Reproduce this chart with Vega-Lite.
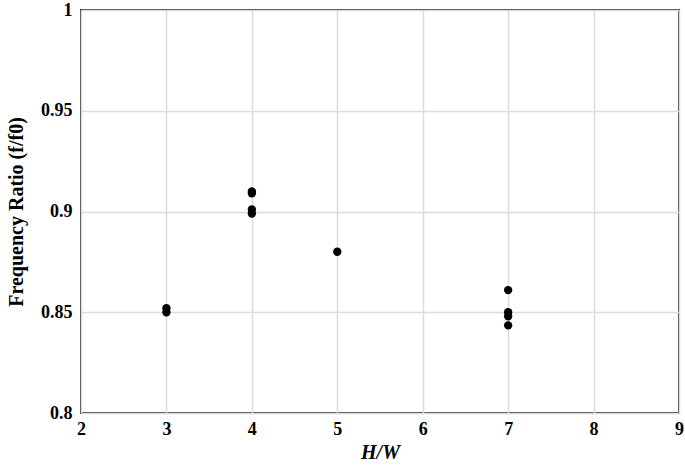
{
  "$schema": "https://vega.github.io/schema/vega-lite/v6.json",
  "width": 598,
  "height": 403,
  "autosize": {"type": "none"},
  "padding": {"left": 81, "top": 10, "right": 6, "bottom": 52},
  "background": "white",
  "config": {
    "view": {"stroke": "#3a3a3a", "strokeWidth": 2},
    "axis": {
      "labelFont": "Liberation Serif",
      "titleFont": "Liberation Serif",
      "labelFontWeight": "bold",
      "titleFontWeight": "bold",
      "labelFontSize": 18,
      "titleFontSize": 20,
      "labelColor": "black",
      "titleColor": "black",
      "gridColor": "#dcdcdc",
      "gridWidth": 1.5,
      "ticks": false,
      "domain": false
    }
  },
  "data": {
    "values": [
      {"hw": 3, "ratio": 0.852},
      {"hw": 3, "ratio": 0.850},
      {"hw": 4, "ratio": 0.910},
      {"hw": 4, "ratio": 0.909},
      {"hw": 4, "ratio": 0.901},
      {"hw": 4, "ratio": 0.899},
      {"hw": 5, "ratio": 0.880},
      {"hw": 7, "ratio": 0.861},
      {"hw": 7, "ratio": 0.850},
      {"hw": 7, "ratio": 0.848},
      {"hw": 7, "ratio": 0.8435}
    ]
  },
  "mark": {"type": "point", "filled": true, "color": "black", "opacity": 1, "size": 70},
  "encoding": {
    "x": {
      "field": "hw",
      "type": "quantitative",
      "scale": {"domain": [2, 9], "nice": false, "zero": false},
      "axis": {"values": [2, 3, 4, 5, 6, 7, 8, 9], "title": "H/W", "titleFontStyle": "italic", "labelPadding": 7, "titlePadding": 4, "labelFlush": false}
    },
    "y": {
      "field": "ratio",
      "type": "quantitative",
      "scale": {"domain": [0.8, 1], "nice": false, "zero": false},
      "axis": {"values": [0.8, 0.85, 0.9, 0.95, 1], "format": ".2~f", "title": "Frequency Ratio (f/f0)", "labelPadding": 9, "titlePadding": 14, "labelFlush": false}
    }
  }
}
